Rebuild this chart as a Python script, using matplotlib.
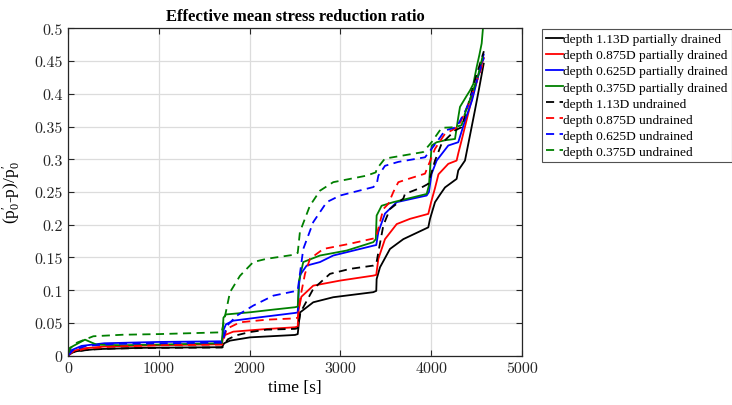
import matplotlib
matplotlib.use("Agg")
import matplotlib.pyplot as plt
from matplotlib.ticker import FuncFormatter

# ---------------- data ----------------
labels = ["depth 1.13D partially drained", "depth 0.875D partially drained",
          "depth 0.625D partially drained", "depth 0.375D partially drained",
          "depth 1.13D undrained", "depth 0.875D undrained",
          "depth 0.625D undrained", "depth 0.375D undrained"]

t_pd_113 = [0, 20, 100, 300, 800, 1695, 1720, 1784, 2004, 2500, 2530, 2555, 2701, 2921, 3362, 3395,
            3399, 3436, 3546, 3693, 3968, 3987, 4042, 4097, 4152, 4280, 4298, 4372, 4445, 4482, 4530, 4578]
v_pd_113 = [0, 0.004, 0.007, 0.010, 0.012, 0.013, 0.019, 0.023, 0.028, 0.0317, 0.033, 0.066, 0.0816, 0.0893, 0.097, 0.099,
            0.117, 0.135, 0.163, 0.178, 0.196, 0.209, 0.2345, 0.246, 0.257, 0.270, 0.283, 0.298, 0.349, 0.375, 0.41, 0.446]

t_pd_0875 = [0, 30, 150, 400, 1000, 1695, 1711, 1820, 2188, 2500, 2530, 2540, 2570, 2701, 2996, 3362, 3395,
             3418, 3491, 3620, 3766, 3968, 4000, 4040, 4080, 4188, 4280, 4300, 4335, 4408, 4480, 4578]
v_pd_0875 = [0, 0.006, 0.011, 0.014, 0.016, 0.0175, 0.0306, 0.0367, 0.0408, 0.0434, 0.0445, 0.07, 0.09, 0.107, 0.1147, 0.1223, 0.1234,
             0.148, 0.178, 0.201, 0.209, 0.2166, 0.235, 0.255, 0.277, 0.293, 0.298, 0.31, 0.329, 0.37, 0.41, 0.455]

t_pd_0625 = [0, 30, 150, 400, 1000, 1695, 1715, 1740, 1820, 2114, 2500, 2530, 2545, 2560, 2628, 2775, 2921, 3362, 3395,
             3418, 3491, 3620, 3950, 3975, 4005, 4060, 4188, 4298, 4372, 4450, 4578]
v_pd_0625 = [0, 0.008, 0.015, 0.019, 0.021, 0.022, 0.040, 0.048, 0.0535, 0.0587, 0.0653, 0.066, 0.11, 0.124, 0.1376, 0.143, 0.153, 0.168, 0.169,
             0.189, 0.217, 0.2345, 0.2446, 0.25, 0.278, 0.298, 0.321, 0.326, 0.359, 0.39, 0.46]

t_pd_0375 = [0, 20, 100, 187, 316, 600, 1000, 1695, 1712, 1740, 2004, 2261, 2500, 2530, 2545, 2591, 2775, 3069, 3362, 3390,
             3399, 3454, 3583, 3950, 3975, 4005, 4060, 4152, 4262, 4298, 4317, 4391, 4427, 4464, 4501, 4530, 4556, 4570]
v_pd_0375 = [0, 0.012, 0.018, 0.0245, 0.0168, 0.016, 0.017, 0.019, 0.058, 0.063, 0.0663, 0.0704, 0.074, 0.075, 0.115, 0.143, 0.153, 0.1606, 0.1734, 0.178,
             0.214, 0.229, 0.2345, 0.247, 0.26, 0.321, 0.326, 0.329, 0.331, 0.364, 0.38, 0.397, 0.405, 0.415, 0.441, 0.459, 0.477, 0.50]

t_ud_113 = [0, 50, 200, 500, 1000, 1700, 1760, 1850, 2000, 2188, 2500, 2530, 2560, 2701, 2885, 3106, 3362, 3395,
            3418, 3473, 3546, 3693, 3711, 3895, 3968, 4042, 4115, 4262, 4335, 4400, 4480, 4580]
v_ud_113 = [0, 0.005, 0.009, 0.011, 0.012, 0.0125, 0.025, 0.031, 0.036, 0.0398, 0.041, 0.042, 0.066, 0.102, 0.125, 0.1326, 0.1376, 0.14,
            0.158, 0.199, 0.224, 0.24, 0.247, 0.257, 0.2625, 0.298, 0.324, 0.344, 0.349, 0.38, 0.42, 0.465]

t_ud_0875 = [0, 50, 200, 500, 1000, 1700, 1747, 1894, 2188, 2500, 2530, 2560, 2610, 2665, 2812, 3106, 3381,
             3400, 3473, 3528, 3583, 3638, 3748, 3932, 4042, 4152, 4225, 4300, 4400, 4480, 4580]
v_ud_0875 = [0, 0.006, 0.011, 0.014, 0.016, 0.017, 0.041, 0.051, 0.055, 0.057, 0.058, 0.09, 0.125, 0.148, 0.163, 0.171, 0.1795,
             0.185, 0.224, 0.232, 0.25, 0.265, 0.27, 0.278, 0.316, 0.339, 0.344, 0.35, 0.38, 0.41, 0.45]

t_ud_0625 = [0, 50, 200, 500, 1000, 1700, 1747, 1857, 2040, 2261, 2481, 2530, 2591, 2701, 2849, 2996, 3362, 3400,
             3418, 3491, 3638, 3932, 4060, 4152, 4280, 4380, 4480, 4580]
v_ud_0625 = [0, 0.008, 0.015, 0.018, 0.019, 0.02, 0.045, 0.061, 0.0765, 0.0917, 0.098, 0.1, 0.163, 0.204, 0.2345, 0.2446, 0.2575, 0.262,
             0.275, 0.29, 0.296, 0.303, 0.326, 0.344, 0.349, 0.375, 0.41, 0.455]

t_ud_0375 = [0, 30, 100, 279, 600, 1000, 1692, 1784, 1894, 2040, 2188, 2481, 2530, 2554, 2664, 2775, 2921, 3289, 3390,
             3399, 3490, 3912, 4004, 4115, 4262, 4335, 4372, 4450, 4520, 4580]
v_ud_0375 = [0.003, 0.012, 0.02, 0.0297, 0.032, 0.033, 0.0357, 0.097, 0.122, 0.143, 0.148, 0.154, 0.157, 0.189, 0.229, 0.252, 0.265, 0.275, 0.28,
             0.285, 0.301, 0.311, 0.326, 0.348, 0.349, 0.352, 0.37, 0.40, 0.43, 0.465]

series_t = [t_pd_113, t_pd_0875, t_pd_0625, t_pd_0375, t_ud_113, t_ud_0875, t_ud_0625, t_ud_0375]
series_v = [v_pd_113, v_pd_0875, v_pd_0625, v_pd_0375, v_ud_113, v_ud_0875, v_ud_0625, v_ud_0375]
colors = ["#000000", "#FF0000", "#0000FF", "#008000"] * 2
styles = ["-"] * 4 + ["--"] * 4

xticks = [0, 1000, 2000, 3000, 4000, 5000]
yticks = [0, 0.05, 0.1, 0.15, 0.2, 0.25, 0.3, 0.35, 0.4, 0.45, 0.5]

# ---------------- figure ----------------
plt.rcParams['font.family'] = ['Liberation Serif', 'DejaVu Serif']
plt.rcParams['mathtext.fontset'] = 'custom'
plt.rcParams['mathtext.rm'] = 'Liberation Serif'
plt.rcParams['mathtext.it'] = 'Liberation Serif:italic'

fig = plt.figure(figsize=(7.32, 4.06), dpi=100)
ax = fig.add_axes([68/732, 1-356.7/406, (522-68)/732, (356.7-29.3)/406])

handles = []
for t, v, c, s, lab in zip(series_t, series_v, colors, styles, labels):
    if s == "--":
        h, = ax.plot(t, v, color=c, lw=1.3, linestyle=(0, (4.5, 3)), label=lab)
    else:
        h, = ax.plot(t, v, color=c, lw=1.3, linestyle="-", label=lab)
    handles.append(h)

ax.set_xlim(0, 5000)
ax.set_ylim(0, 0.5)
ax.set_xticks(xticks)
ax.set_yticks(yticks)
ax.xaxis.set_major_formatter(FuncFormatter(lambda x, p: f"{x:g}"))
ax.yaxis.set_major_formatter(FuncFormatter(lambda x, p: f"{x:g}"))
for lab in ax.get_xticklabels() + ax.get_yticklabels():
    lab.set_fontfamily('cmr10')
    lab.set_fontsize(11.5)
ax.tick_params(direction='in', length=4, width=0.8, colors='#262626', top=True, right=True, pad=4,
               labelcolor='#262626')
ax.grid(True, color='#dcdcdc', lw=0.9)
ax.set_axisbelow(True)
for sp in ax.spines.values():
    sp.set_color('#262626')
    sp.set_linewidth(0.9)

ax.set_title("Effective mean stress reduction ratio", fontsize=12, fontweight='bold', pad=6)
ax.set_xlabel("time [s]", fontsize=12.5, labelpad=3)
ax.set_ylabel(r"(p$_0^{\prime}$-p)/p$_0^{\prime}$", fontsize=12.5, labelpad=8)

leg = fig.legend(handles=handles, loc='upper left', bbox_to_anchor=(542/732, 1-30/406),
                 fontsize=9.6, frameon=True, fancybox=False, borderaxespad=0, borderpad=0.3,
                 handlelength=1.25, handletextpad=0.05, labelspacing=0.28)
leg.get_frame().set_edgecolor('#262626')
leg.get_frame().set_linewidth(0.8)

fig.savefig("out.png", dpi=100)
